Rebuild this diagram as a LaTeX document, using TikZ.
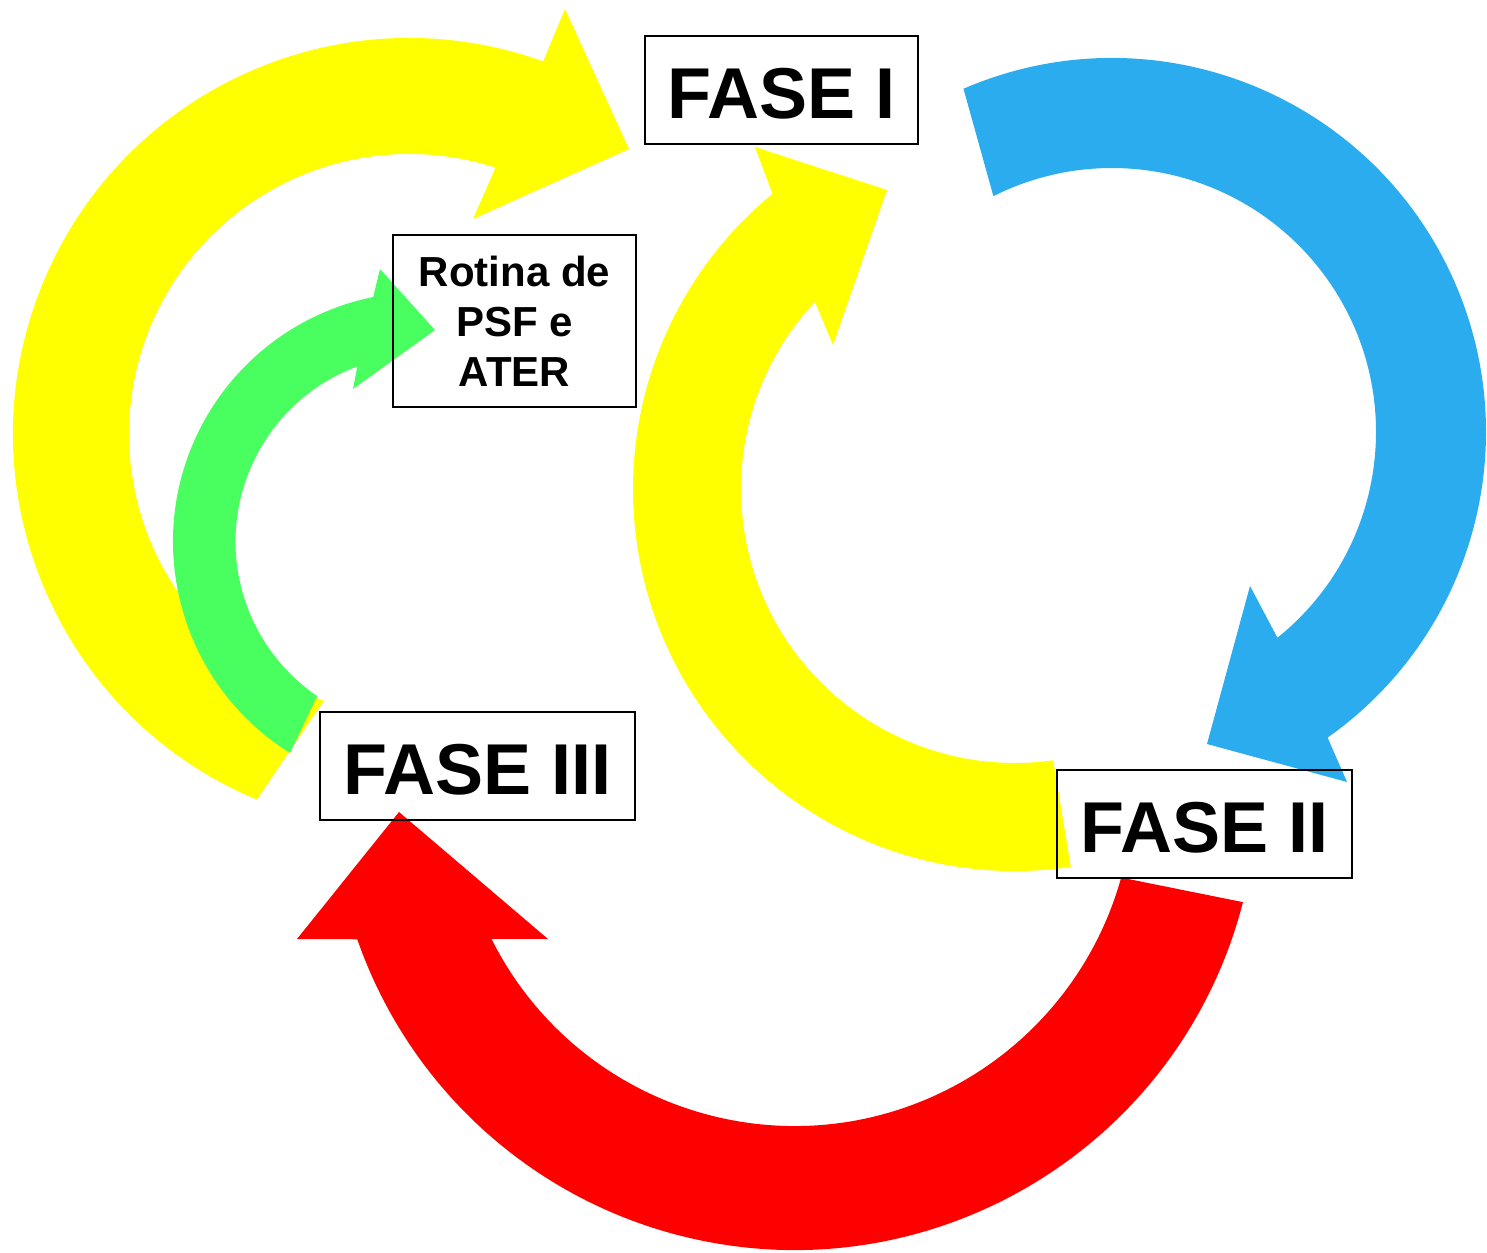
\documentclass[tikz,border=0pt]{standalone}
\usepackage{fontspec}
\setmainfont{Liberation Sans}
\definecolor{arrowyellow}{HTML}{FFFF00}
\definecolor{arrowgreen}{HTML}{49FF5F}
\definecolor{arrowblue}{HTML}{2AACEE}
\definecolor{arrowred}{HTML}{FF0000}
\begin{document}
\begin{tikzpicture}[
    x=0.5pt, y=-0.5pt,
    phase/.style={draw, line width=1pt, minimum height=54pt, inner sep=0pt, text height=28.8pt, text depth=0pt, font=\fontsize{36}{40}\selectfont\bfseries},
    note/.style={draw, line width=1pt, minimum width=121.5pt, minimum height=86pt, inner sep=0pt, align=center, font=\fontsize{21}{25}\selectfont\bfseries}
]
    \useasboundingbox (0,0) rectangle (1487,1252);

    \coordinate (cyl) at (409,434);
    \coordinate (cgr) at (422.5,541.6);
    \coordinate (cyc) at (1015,489);
    \coordinate (cbl) at (1112,432);
    \coordinate (crd) at (794.5,787);

    % yellow, left
    \fill[arrowyellow] ([shift={(cyl)}]112.6:396) arc[start angle=112.6, end angle=289.8, radius=396]
        -- (565,9) -- (629,149) -- (473,219)
        -- ([shift={(cyl)}]288:280) arc[start angle=288, end angle=107.7, radius=280] -- cycle;
    % green
    \fill[arrowgreen] ([shift={(cgr)}]122.1:249.5) arc[start angle=122.1, end angle=258.6, radius=249.5]
        -- (380,269) -- (435,330) -- (353,389)
        -- ([shift={(cgr)}]249.6:187) arc[start angle=249.6, end angle=124.3, radius=187] -- cycle;
    % yellow, middle
    \fill[arrowyellow] ([shift={(cyc)}]81.6:382) arc[start angle=81.6, end angle=230.6, radius=382]
        -- (755,147) -- (887,190) -- (833,345)
        -- ([shift={(cyc)}]223.1:274) arc[start angle=223.1, end angle=82, radius=274] -- cycle;
    % blue
    \fill[arrowblue] ([shift={(cbl)}]-113.4:374) arc[start angle=-113.4, end angle=54.8, radius=374]
        -- (1347,782) -- (1207,744) -- (1250,586)
        -- ([shift={(cbl)}]51.2:264) arc[start angle=51.2, end angle=-116.7, radius=264] -- cycle;
    % red
    \fill[arrowred] ([shift={(crd)}]14.4:463) arc[start angle=14.4, end angle=160.8, radius=463]
        -- (297,939) -- (399,812) -- (548,939)
        -- ([shift={(crd)}]153.4:339) arc[start angle=153.4, end angle=15.5, radius=339] -- cycle;

    \node[phase, minimum width=136.5pt] (fase1) at (781.5,90) {FASE I};
    \node[phase, minimum width=147.5pt] (fase2) at (1204.5,824) {FASE II};
    \node[phase, minimum width=157.5pt] (fase3) at (477.5,766) {FASE III};
    \node[note] (rotina) at (514.5,321) {Rotina de\\PSF e\\ATER};
\end{tikzpicture}
\end{document}
